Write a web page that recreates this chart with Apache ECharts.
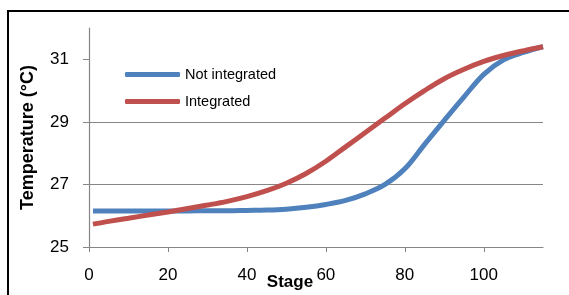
<!DOCTYPE html>
<html>
<head>
<meta charset="utf-8">
<script src="https://cdn.jsdelivr.net/npm/echarts@6/dist/echarts.min.js"></script>
<style>
  html, body { margin: 0; padding: 0; background: #fff; }
  #chart { width: 569px; height: 295px; }
</style>
</head>
<body>
<div id="chart"></div>
<script>
// stage values (x) and temperatures
const stages = [1, 5, 10, 15, 20, 25, 30, 35, 40, 45, 50, 55, 60, 65, 70, 75, 80, 85, 90, 95, 100, 105, 110, 115];
const notIntegrated = [26.15, 26.15, 26.15, 26.15, 26.15, 26.15, 26.16, 26.16, 26.17, 26.18, 26.21, 26.27, 26.36, 26.49, 26.70, 27.00, 27.50, 28.28, 29.05, 29.80, 30.52, 30.98, 31.22, 31.40];
const integrated = [25.73, 25.82, 25.92, 26.02, 26.12, 26.23, 26.34, 26.46, 26.61, 26.80, 27.04, 27.35, 27.74, 28.20, 28.66, 29.12, 29.58, 30.00, 30.38, 30.68, 30.93, 31.12, 31.27, 31.40];
const seriesNames = ['Not integrated', 'Integrated'];
const xTicks = [0, 20, 40, 60, 80, 100];
const yTicks = [25, 27, 29, 31];

document.addEventListener('DOMContentLoaded', function() {
  const chart = echarts.init(document.getElementById('chart'), null, { renderer: 'canvas' });
  const font = '"Liberation Sans", Arial, sans-serif';
  const axisGrey = '#868686';

  const pairs = (ys) => stages.map((s, i) => [s, ys[i]]);

  const option = {
    animation: false,
    textStyle: { fontFamily: font },
    graphic: [{
      type: 'rect',
      shape: { x: 8, y: 11, width: 600, height: 400 },
      style: { fill: 'none', stroke: '#000', lineWidth: 2 },
      z: -1
    }],
    grid: { left: 89, right: 26, top: 28, bottom: 48, outerBoundsMode: 'none', containLabel: false },
    legend: {
      orient: 'vertical',
      left: 125,
      top: 66,
      padding: 0,
      icon: 'roundRect',
      itemWidth: 55,
      itemHeight: 5,
      itemGap: 10,
      data: seriesNames,
      textStyle: { fontFamily: font, fontSize: 14.5, color: '#000', lineHeight: 17 }
    },
    xAxis: {
      type: 'value',
      min: 0,
      max: 115,
      interval: 20,
      name: 'Stage',
      nameLocation: 'middle',
      nameGap: 27,
      nameMoveOverlap: false,
      nameTextStyle: { fontFamily: font, fontSize: 17, fontWeight: 'bold', color: '#000', padding: [0, 52, 0, 0] },
      axisLine: { show: true, lineStyle: { color: axisGrey, width: 1.2 } },
      axisTick: { show: true, length: 5, lineStyle: { color: axisGrey }, customValues: xTicks },
      axisLabel: { fontFamily: font, fontSize: 17, color: '#000', margin: 20, customValues: xTicks },
      splitLine: { show: false }
    },
    yAxis: {
      type: 'value',
      min: 25,
      max: 32,
      interval: 2,
      name: 'Temperature (°C)',
      nameLocation: 'middle',
      nameGap: 52,
      nameMoveOverlap: false,
      nameTextStyle: { fontFamily: font, fontSize: 18, fontWeight: 'bold', color: '#000' },
      axisLine: { show: true, lineStyle: { color: axisGrey, width: 1.2 } },
      axisTick: { show: true, length: 6, lineStyle: { color: axisGrey }, customValues: yTicks },
      axisLabel: { fontFamily: font, fontSize: 17, color: '#000', margin: 20, customValues: yTicks },
      splitLine: { show: true, showMaxLine: false, lineStyle: { color: axisGrey, width: 1.2 } }
    },
    series: [
      {
        name: seriesNames[0],
        type: 'line',
        smooth: 0.35,
        symbol: 'none',
        color: '#4F81BD',
        lineStyle: { width: 5, color: '#4F81BD' },
        data: pairs(notIntegrated)
      },
      {
        name: seriesNames[1],
        type: 'line',
        smooth: 0.35,
        symbol: 'none',
        color: '#C0504D',
        lineStyle: { width: 5, color: '#C0504D' },
        data: pairs(integrated)
      }
    ]
  };
  chart.setOption(option);
});
</script>
</body>
</html>
